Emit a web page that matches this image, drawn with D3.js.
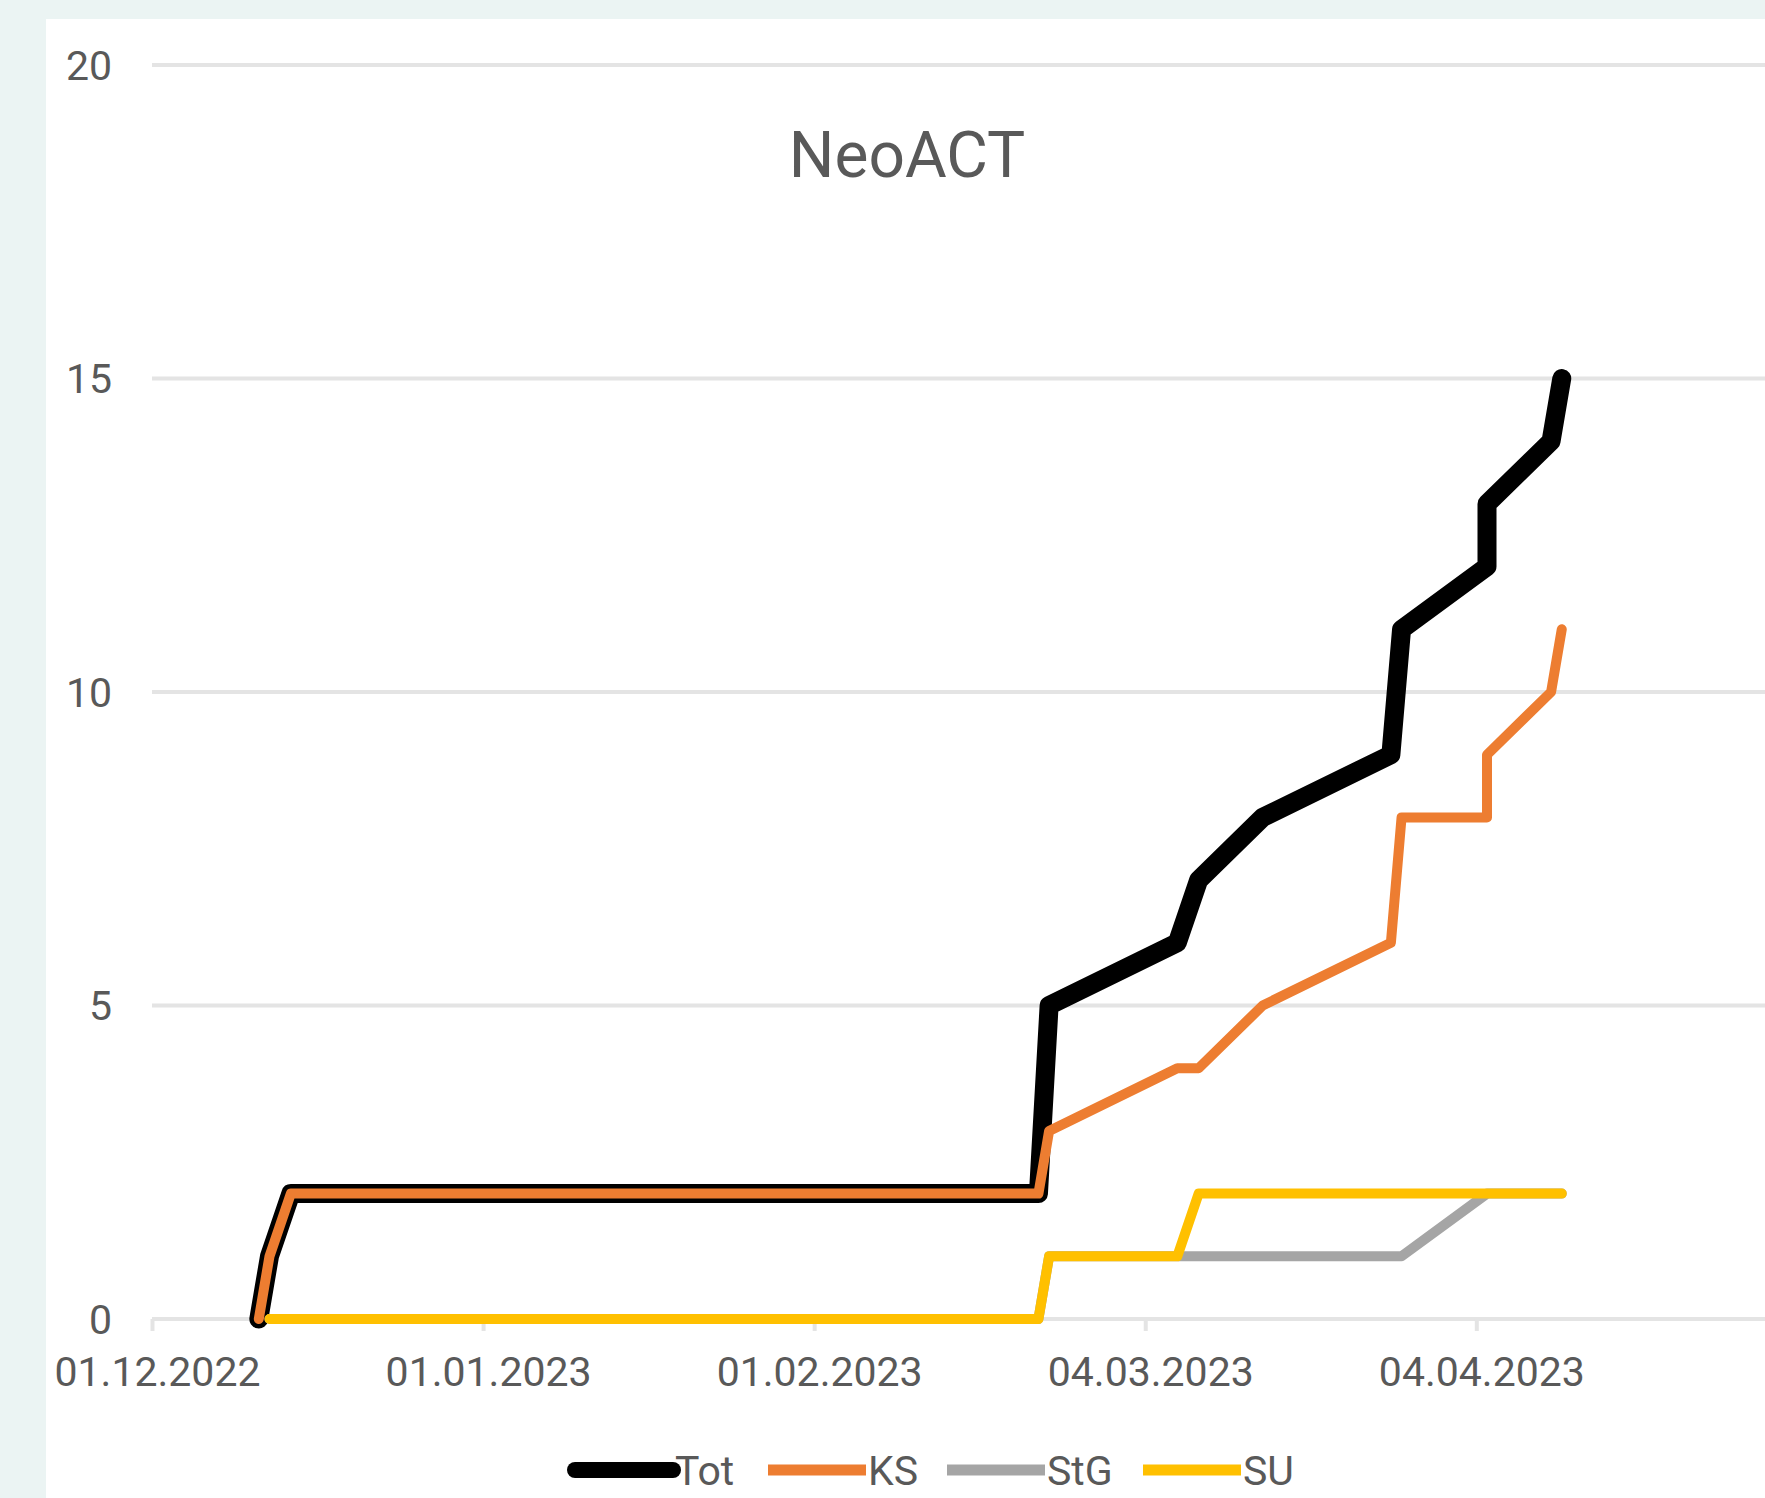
<!DOCTYPE html>
<html>
<head>
<meta charset="utf-8">
<script src="https://cdn.jsdelivr.net/npm/d3@7"></script>
<style>
  html, body { margin: 0; padding: 0; background: #ebf4f3; }
  svg { display: block; }
  text { font-family: Roboto, 'Liberation Sans', sans-serif; fill: #595959; }
</style>
</head>
<body>
<script>
const dates = ['2022-12-11', '2022-12-12', '2022-12-14', '2023-02-22', '2023-02-23', '2023-03-07',
  '2023-03-09', '2023-03-15', '2023-03-27', '2023-03-28', '2023-04-05', '2023-04-05', '2023-04-11', '2023-04-12'];
const tot = [0, 1, 2, 2, 5, 6, 7, 8, 9, 11, 12, 13, 14, 15];
const ks = [0, 1, 2, 2, 3, 4, 4, 5, 6, 8, 8, 9, 10, 11];
const stg = [null, 0, 0, 0, 1, 1, 1, 1, 1, 1, 2, 2, 2, 2];
const su = [null, 0, 0, 0, 1, 1, 2, 2, 2, 2, 2, 2, 2, 2];

const seriesNames = ['Tot', 'KS', 'StG', 'SU'];
const seriesColors = ['#000000', '#ed7d31', '#a5a5a5', '#ffc000'];
const xTickDates = ['2022-12-01', '2023-01-01', '2023-02-01', '2023-03-04', '2023-04-04'];
const xEnd = '2023-05-05';
const yTicks = [0, 5, 10, 15, 20];
const title = 'NeoACT';

const W = 1765, H = 1498;
const parse = d3.utcParse('%Y-%m-%d');
const fmt = d3.utcFormat('%d.%m.%Y');

const svg = d3.select('body').append('svg').attr('width', W).attr('height', H);

svg.append('rect').attr('width', W).attr('height', H).attr('fill', '#ebf4f3');
svg.append('rect').attr('x', 46).attr('y', 19).attr('width', W - 46).attr('height', H - 19).attr('fill', '#fff');

// axis runs past the right edge of the picture (the reference is cropped)
const x = d3.scaleUtc()
  .domain([parse(xTickDates[0]), parse(xEnd)])
  .range([152, 152 + 155 * 10.68]);
const y = d3.scaleLinear().domain([0, 20]).range([1319, 65]);

// gridlines
svg.append('g')
  .selectAll('line')
  .data(yTicks)
  .join('line')
  .attr('x1', x.range()[0])
  .attr('x2', x.range()[1])
  .attr('y1', (d) => y(d))
  .attr('y2', (d) => y(d))
  .attr('stroke', '#e4e4e4')
  .attr('stroke-width', 4);

// y labels
svg.append('g')
  .selectAll('text')
  .data(yTicks)
  .join('text')
  .attr('x', 112)
  .attr('y', (d) => y(d))
  .attr('dy', '0.36em')
  .attr('text-anchor', 'end')
  .attr('font-size', 41)
  .text((d) => d);

// x axis
const xAxis = d3.axisBottom(x)
  .tickValues(xTickDates.map(parse))
  .tickFormat(fmt)
  .tickSize(12)
  .tickPadding(26);

const gx = svg.append('g').attr('transform', `translate(0,${y(0)})`).call(xAxis);
gx.select('.domain').remove();
gx.selectAll('.tick line').attr('stroke', '#e4e4e4').attr('stroke-width', 4);
gx.selectAll('.tick text')
  .attr('font-size', 41)
  .attr('fill', '#595959')
  .attr('font-family', 'Roboto, sans-serif')
  .attr('dx', 5);

// series
const allSeries = [tot, ks, stg, su];
const rows = dates.map(parse);

const line = d3.line()
  .defined((d) => d[1] != null)
  .x((d) => x(d[0]))
  .y((d) => y(d[1]));

allSeries.forEach((vals, i) => {
  svg.append('path')
    .datum(rows.map((dt, j) => [dt, vals[j]]))
    .attr('d', line)
    .attr('fill', 'none')
    .attr('stroke', seriesColors[i])
    .attr('stroke-width', i === 0 ? 19 : 10)
    .attr('stroke-linejoin', 'round')
    .attr('stroke-linecap', 'round');
});

// title
svg.append('text')
  .attr('x', 907)
  .attr('y', 177)
  .attr('text-anchor', 'middle')
  .attr('font-size', 64)
  .text(title);

// legend
const legendX = [575, 768, 947, 1143];
const legendY = 1470;
const lg = svg.append('g')
  .selectAll('g')
  .data(seriesNames)
  .join('g')
  .attr('transform', (d, i) => `translate(${legendX[i]},${legendY})`);

lg.append('line')
  .attr('x1', 0)
  .attr('x2', 98)
  .attr('stroke', (d, i) => seriesColors[i])
  .attr('stroke-width', (d, i) => (i === 0 ? 16 : 11))
  .attr('stroke-linecap', (d, i) => (i === 0 ? 'round' : 'butt'));

lg.append('text')
  .attr('x', 100)
  .attr('dy', '0.36em')
  .attr('font-size', 41)
  .text((d) => d);
</script>
</body>
</html>
